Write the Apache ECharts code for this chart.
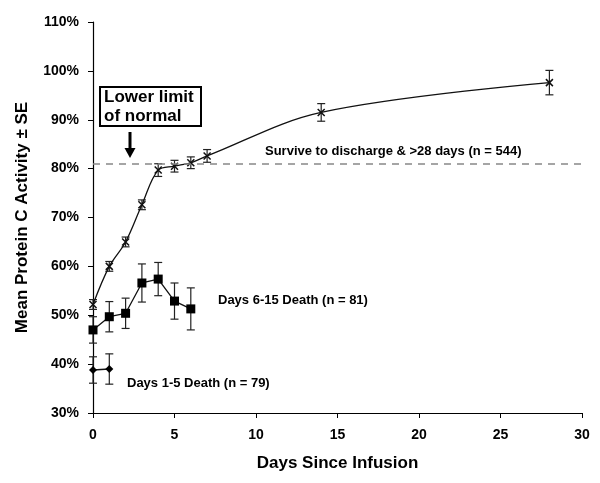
<!DOCTYPE html>
<html>
<head>
<meta charset="utf-8">
<script src="https://cdn.jsdelivr.net/npm/echarts@6/dist/echarts.min.js"></script>
<style>html,body{margin:0;padding:0;background:#fff}#c{width:600px;height:483px}</style>
</head>
<body>
<div id="c"></div>
<script>
// ---- data ----
const xTicks = [0, 5, 10, 15, 20, 25, 30];
const yTicks = [30, 40, 50, 60, 70, 80, 90, 100, 110];
const survDays = [0, 1, 2, 3, 4, 5, 6, 7, 14, 28];
const survMean = [52.2, 60.0, 65.0, 72.6, 79.7, 80.5, 81.2, 82.6, 91.5, 97.6];
const survSE   = [1.0, 1.0, 1.0, 1.0, 1.3, 1.2, 1.2, 1.3, 1.8, 2.5];
const d615Days = [0, 1, 2, 3, 4, 5, 6];
const d615Mean = [47.0, 49.7, 50.4, 56.6, 57.4, 52.9, 51.3];
const d615SE   = [2.7, 3.1, 3.1, 3.9, 3.4, 3.7, 4.3];
const d15Days = [0, 1];
const d15Mean = [38.8, 39.0];
const d15SE   = [2.7, 3.1];
const lowerLimit = 81;
const seriesNames = ['Survive to discharge & >28 days (n = 544)', 'Days 6-15 Death (n = 81)', 'Days 1-5 Death (n = 79)'];

const FONT = '"Liberation Sans", Arial, Helvetica, sans-serif';
function pts(d, m) { return d.map((x, i) => [x, m[i]]); }
function errs(d, m, s) { return d.map((x, i) => [x, m[i] - s[i], m[i] + s[i]]); }
function errSeries(data, cap) {
  return {
    type: 'custom', data: data, z: 3, silent: true,
    renderItem: function (params, api) {
      const x = api.value(0);
      const lo = api.coord([x, api.value(1)]);
      const hi = api.coord([x, api.value(2)]);
      const st = { stroke: '#222', lineWidth: 1.2 };
      return { type: 'group', children: [
        { type: 'line', shape: { x1: hi[0], y1: hi[1], x2: lo[0], y2: lo[1] }, style: st },
        { type: 'line', shape: { x1: hi[0] - cap, y1: hi[1], x2: hi[0] + cap, y2: hi[1] }, style: st },
        { type: 'line', shape: { x1: lo[0] - cap, y1: lo[1], x2: lo[0] + cap, y2: lo[1] }, style: st }
      ]};
    }
  };
}

const chart = echarts.init(document.getElementById('c'), null, { renderer: 'canvas' });
const option = {
  animation: false,
  backgroundColor: '#fff',
  grid: { left: 93, right: 18, top: 22, bottom: 70, containLabel: false },
  xAxis: {
    type: 'value', min: xTicks[0], max: xTicks[xTicks.length - 1], interval: 5,
    name: 'Days Since Infusion', nameLocation: 'middle', nameGap: 42,
    nameTextStyle: { fontFamily: FONT, fontWeight: 'bold', fontSize: 17, color: '#000' },
    axisLine: { lineStyle: { color: '#000', width: 1.2 } },
    axisTick: { length: 5, lineStyle: { color: '#000' } },
    axisLabel: { margin: 15, fontFamily: FONT, fontWeight: 'bold', fontSize: 14, color: '#000' },
    splitLine: { show: false }
  },
  yAxis: {
    type: 'value', min: yTicks[0], max: yTicks[yTicks.length - 1], interval: 10,
    name: 'Mean Protein C Activity \u00b1 SE', nameLocation: 'middle', nameGap: 62,
    nameTextStyle: { fontFamily: FONT, fontWeight: 'bold', fontSize: 17, color: '#000' },
    axisLine: { show: true, lineStyle: { color: '#000', width: 1.2 } },
    axisTick: { show: true, length: 5, lineStyle: { color: '#000' } },
    axisLabel: { margin: 14, fontFamily: FONT, fontWeight: 'bold', fontSize: 14, color: '#000', formatter: '{value}%' },
    splitLine: { show: false }
  },
  series: [
    errSeries(errs(survDays, survMean, survSE), 4),
    errSeries(errs(d615Days, d615Mean, d615SE), 4),
    errSeries(errs(d15Days, d15Mean, d15SE), 4),
    {
      name: seriesNames[0], type: 'line', data: pts(survDays, survMean), smooth: 0.35, z: 4,
      lineStyle: { color: '#111', width: 1.3 },
      symbol: 'path://M0,0L10,10M10,0L0,10', symbolSize: 7,
      itemStyle: { color: 'rgba(0,0,0,0)', borderColor: '#111', borderWidth: 1.5 },
      markLine: {
        silent: true, symbol: 'none', label: { show: false },
        lineStyle: { color: '#888', type: [7, 6], width: 1.5 },
        data: [[{ coord: [xTicks[0], lowerLimit] }, { coord: [xTicks[xTicks.length - 1], lowerLimit] }]]
      }
    },
    {
      name: seriesNames[1], type: 'line', data: pts(d615Days, d615Mean), z: 4,
      lineStyle: { color: '#111', width: 1.3 },
      symbol: 'rect', symbolSize: 9, itemStyle: { color: '#000' }
    },
    {
      name: seriesNames[2], type: 'line', data: pts(d15Days, d15Mean), z: 4,
      lineStyle: { color: '#111', width: 1.3 },
      symbol: 'diamond', symbolSize: 8, itemStyle: { color: '#000' }
    }
  ],
  graphic: [
    { type: 'text', left: 265, top: 145, style: { text: seriesNames[0], font: 'bold 13px ' + FONT, fill: '#000' } },
    { type: 'text', left: 218, top: 294, style: { text: seriesNames[1], font: 'bold 13px ' + FONT, fill: '#000' } },
    { type: 'text', left: 127, top: 377, style: { text: seriesNames[2], font: 'bold 13px ' + FONT, fill: '#000' } },
    { type: 'rect', shape: { x: 100, y: 87, width: 101, height: 39 }, style: { fill: '#fff', stroke: '#000', lineWidth: 2 }, z: 10 },
    { type: 'text', left: 104, top: 88, z: 11, style: { text: 'Lower limit\nof normal', font: 'bold 17px ' + FONT, lineHeight: 19, fill: '#000' } },
    { type: 'line', shape: { x1: 130, y1: 132, x2: 130, y2: 150 }, style: { stroke: '#000', lineWidth: 3 }, z: 10 },
    { type: 'polygon', shape: { points: [[124.5, 148], [135.5, 148], [130, 158]] }, style: { fill: '#000' }, z: 10 }
  ]
};
chart.setOption(option);
</script>
</body>
</html>
